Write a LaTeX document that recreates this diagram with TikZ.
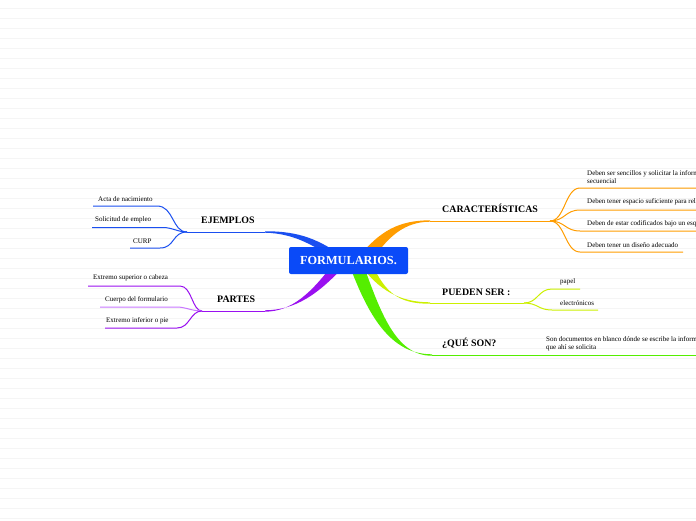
\documentclass[tikz,border=0pt]{standalone}
\usepackage{fontspec}
\setmainfont{Liberation Serif}
\usetikzlibrary{calc}
\begin{document}
\begin{tikzpicture}[x=1pt,y=-1pt,
  bg/.style={draw=black!4,line width=0.7pt},
  main/.style={font=\bfseries\fontsize{9.9}{11}\selectfont,inner sep=0pt,anchor=west},
  sub/.style={font=\fontsize{7}{8}\selectfont,inner sep=0pt,anchor=west,align=left},
  lnk/.style={line width=1pt},
  ]
\definecolor{cblue}{HTML}{1A4FF0}
\definecolor{cbox}{HTML}{0A4AF8}
\definecolor{corange}{HTML}{FF9D00}
\definecolor{cyel}{HTML}{CCF000}
\definecolor{cgreen}{HTML}{55EE00}
\definecolor{cpurp}{HTML}{9A10F0}
\definecolor{cpurpl}{HTML}{C877FF}
\useasboundingbox (0,0) rectangle (696,520);
\clip (0,0) rectangle (696,520);
\fill[white] (0,0) rectangle (696,520);
\foreach \k in {0,...,51} \draw[bg] (0,8+10*\k) -- (696,8+10*\k);

% coordinates
\coordinate (bE) at (265,232);
\coordinate (jE) at (187,232);
\coordinate (bP) at (265,311);
\coordinate (jP) at (202,311);
\coordinate (bC) at (430,221);
\coordinate (jC) at (550,221);
\coordinate (bS) at (430,303);
\coordinate (jS) at (524,303);
\coordinate (bQ) at (432,355);
\coordinate (jQ) at (520,355);

% tapered main branches
\fill[cblue] ($(bE)+(0,-0.7)$) .. controls (300,231) and (320,240) .. (345,258)
  -- (340,263) .. controls (315,246) and (295,233.4) .. ($(bE)+(0,0.7)$) -- cycle;
\fill[corange] ($(bC)+(0,-0.7)$) .. controls (400,220.4) and (380,230) .. (358,258)
  -- (371,262) .. controls (388,236) and (405,221.8) .. ($(bC)+(0,0.7)$) -- cycle;
\fill[cpurp] ($(bP)+(0,-0.7)$) .. controls (295,310) and (318,295) .. (346,264)
  -- (333,264) .. controls (312,292) and (292,311.6) .. ($(bP)+(0,0.7)$) -- cycle;
\fill[cyel] ($(bS)+(0,-0.7)$) .. controls (400,302.3) and (378,290) .. (360,264)
  -- (372,264) .. controls (385,292) and (398,304) .. ($(bS)+(0,0.7)$) -- cycle;
\fill[cgreen] ($(bQ)+(0,-0.7)$) .. controls (390,354.3) and (368,315) .. (349,264)
  -- (363,264) .. controls (380,310) and (395,356) .. ($(bQ)+(0,0.7)$) -- cycle;

% central node
\node[fill=cbox,rounded corners=2pt,minimum width=119pt,minimum height=27pt,
  text=white,font=\bfseries\fontsize{12.3}{14}\selectfont,inner sep=0pt] (c) at (348.5,260.5) {FORMULARIOS.};

% main labels
\node[main] (ej) at (201,220) {EJEMPLOS};
\node[main] (pa) at (217,299) {PARTES};
\node[main] (ca) at (442,208.5) {CARACTERÍSTICAS};
\node[main] (ps) at (442,292.5) {PUEDEN SER :};
\node[main] (qs) at (442,343) {¿QUÉ SON?};

% main underlines
\draw[lnk,cblue] (bE) -- (jE);
\draw[lnk,cpurp] (bP) -- (jP);
\draw[lnk,corange] (bC) -- (jC);
\draw[lnk,cyel] (bS) -- (jS);
\draw[lnk,cgreen] (bQ) -- (jQ);

% EJEMPLOS children
\coordinate (e1) at (157,206); \coordinate (e1e) at (93,206);
\coordinate (e2) at (163,227.5); \coordinate (e2e) at (92,227.5);
\coordinate (e3) at (160,248); \coordinate (e3e) at (130,248);
\draw[lnk,cblue] (jE) .. controls (172,232) and (174,206) .. (e1) -- (e1e);
\draw[lnk,cblue] (jE) .. controls (178,232) and (172,227.5) .. (e2) -- (e2e);
\draw[lnk,cblue] (jE) .. controls (172,232) and (175,248) .. (e3) -- (e3e);
\node[sub] (t1) at (98,199) {Acta de nacimiento};
\node[sub] (t2) at (95,219.5) {Solicitud de empleo};
\node[sub] (t3) at (133,241) {CURP};

% PARTES children
\coordinate (p1) at (180,286); \coordinate (p1e) at (88,286);
\coordinate (p2) at (177,307); \coordinate (p2e) at (100,307);
\coordinate (p3) at (177,328); \coordinate (p3e) at (105,328);
\draw[lnk,cpurp] (jP) .. controls (192,311) and (192,286) .. (p1) -- (p1e);
\draw[lnk,cpurpl] (jP) .. controls (192,311) and (185,307) .. (p2) -- (p2e);
\draw[lnk,cpurp] (jP) .. controls (190,311) and (190,328) .. (p3) -- (p3e);
\node[sub] (t4) at (93,278) {Extremo superior o cabeza};
\node[sub] (t5) at (105,300) {Cuerpo del formulario};
\node[sub] (t6) at (106,321) {Extremo inferior o pie};

% CARACTERISTICAS children
\coordinate (c1) at (580,188); \coordinate (c1e) at (700,188);
\coordinate (c2) at (580,210); \coordinate (c2e) at (700,210);
\coordinate (c3) at (580,231); \coordinate (c3e) at (700,231);
\coordinate (c4) at (580,252); \coordinate (c4e) at (683,252);
\draw[lnk,corange] (jC) .. controls (565,221) and (565,188) .. (c1) -- (c1e);
\draw[lnk,corange] (jC) .. controls (565,221) and (565,210) .. (c2) -- (c2e);
\draw[lnk,corange] (jC) .. controls (565,221) and (565,231) .. (c3) -- (c3e);
\draw[lnk,corange] (jC) .. controls (565,221) and (565,252) .. (c4) -- (c4e);
\node[sub] (t7) at (587,177) {Deben ser sencillos y solicitar la información en forma\\secuencial};
\node[sub] (t8) at (587,202) {Deben tener espacio suficiente para rellenar};
\node[sub] (t9) at (587,224) {Deben de estar codificados bajo un esquema};
\node[sub] (t10) at (587,245) {Deben tener un diseño adecuado};

% PUEDEN SER children
\coordinate (s1) at (552,289); \coordinate (s1e) at (580,289);
\coordinate (s2) at (552,310); \coordinate (s2e) at (598,310);
\draw[lnk,cyel] (jS) .. controls (538,303) and (538,289) .. (s1) -- (s1e);
\draw[lnk,cyel] (jS) .. controls (538,303) and (538,310) .. (s2) -- (s2e);
\node[sub] (t11) at (560,282) {papel};
\node[sub] (t12) at (560,303) {electrónicos};

% QUE SON children
\coordinate (q1e) at (700,355);
\draw[lnk,cgreen] (jQ) -- (q1e);
\node[sub] (t13) at (546,344) {Son documentos en blanco dónde se escribe la información\\que ahí se solicita};
\end{tikzpicture}
\end{document}
